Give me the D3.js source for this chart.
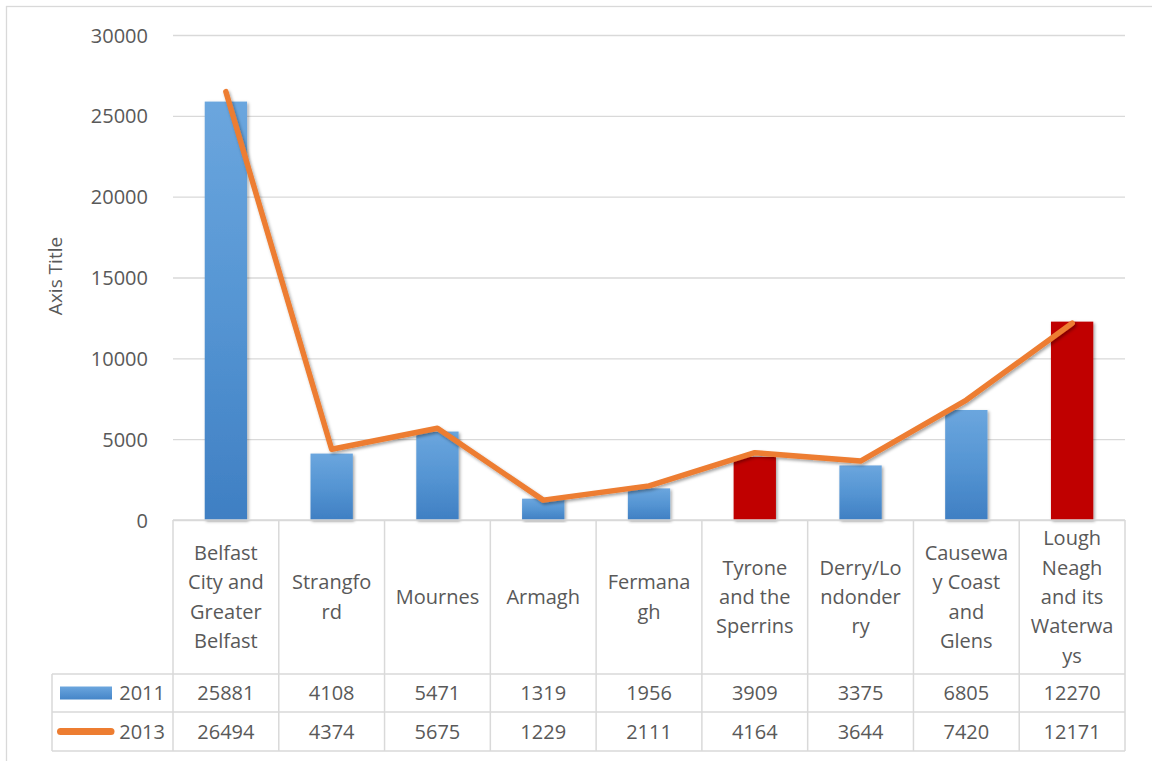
<!DOCTYPE html>
<html>
<head>
<meta charset="utf-8">
<script src="https://cdn.jsdelivr.net/npm/d3@7"></script>
<style>
  html, body { margin: 0; padding: 0; background: #fff; }
  svg { display: block; font-family: "Open Sans", "Liberation Sans", sans-serif; }
</style>
</head>
<body>
<svg id="chart" width="1152" height="761"></svg>
<script>
// Visitor figures by Northern Ireland tourism region
const categories = [
  "Belfast City and Greater Belfast", "Strangford", "Mournes", "Armagh", "Fermanagh",
  "Tyrone and the Sperrins", "Derry/Londonderry", "Causeway Coast and Glens",
  "Lough Neagh and its Waterways"
];
// Header cell text, wrapped as it appears in the data table
const categoryLines = [
  ["Belfast", "City and", "Greater", "Belfast"],
  ["Strangfo", "rd"],
  ["Mournes"],
  ["Armagh"],
  ["Fermana", "gh"],
  ["Tyrone", "and the", "Sperrins"],
  ["Derry/Lo", "ndonder", "ry"],
  ["Causewa", "y Coast", "and", "Glens"],
  ["Lough", "Neagh", "and its", "Waterwa", "ys"]
];
const values2011 = [25881, 4108, 5471, 1319, 1956, 3909, 3375, 6805, 12270];
const values2013 = [26494, 4374, 5675, 1229, 2111, 4164, 3644, 7420, 12171];
const seriesNames = ["2011", "2013"];
const highlighted = ["Tyrone and the Sperrins", "Lough Neagh and its Waterways"];
const yTicks = [0, 5000, 10000, 15000, 20000, 25000, 30000];
const yTitle = "Axis Title";

const svg = d3.select("#chart");
const textColor = "#595959";
const gridColor = "#d9d9d9";
const fontSize = 20;

const plot = { left: 173, right: 1125, top: 35, bottom: 520 };
const table = { headerBottom: 674, row1Bottom: 712, row2Bottom: 751, legendLeft: 52 };

const defs = svg.append("defs");
const blueGrad = defs.append("linearGradient").attr("id", "blueGrad")
  .attr("x1", 0).attr("y1", 0).attr("x2", 0).attr("y2", 1);
blueGrad.append("stop").attr("offset", "0%").attr("stop-color", "#6ba6de");
blueGrad.append("stop").attr("offset", "50%").attr("stop-color", "#5595d3");
blueGrad.append("stop").attr("offset", "100%").attr("stop-color", "#3f7fc3");

const keyGrad = defs.append("linearGradient").attr("id", "keyGrad")
  .attr("x1", 0).attr("y1", 0).attr("x2", 0).attr("y2", 1);
keyGrad.append("stop").attr("offset", "0%").attr("stop-color", "#6ba6de");
keyGrad.append("stop").attr("offset", "100%").attr("stop-color", "#4585c8");

const shadow = defs.append("filter").attr("id", "shadow")
  .attr("x", "-20%").attr("y", "-5%").attr("width", "140%").attr("height", "115%");
shadow.append("feDropShadow").attr("dx", 1.5).attr("dy", 1.5)
  .attr("stdDeviation", 1.5).attr("flood-color", "#000").attr("flood-opacity", 0.35);

const lineShadow = defs.append("filter").attr("id", "lineShadow")
  .attr("x", "-10%").attr("y", "-10%").attr("width", "120%").attr("height", "120%");
lineShadow.append("feDropShadow").attr("dx", 1.5).attr("dy", 2)
  .attr("stdDeviation", 1.5).attr("flood-color", "#000").attr("flood-opacity", 0.35);

// Chart frame
svg.append("rect")
  .attr("x", 6.5).attr("y", 6.5).attr("width", 1160).attr("height", 770)
  .attr("fill", "#fff").attr("stroke", gridColor).attr("stroke-width", 1.3);

const x = d3.scaleBand().domain(categories).range([plot.left, plot.right]).padding(0);
const y = d3.scaleLinear().domain([0, 30000]).range([plot.bottom, plot.top]);

// Gridlines and value axis labels
const yAxis = d3.axisLeft(y).tickValues(yTicks).tickFormat(d3.format("d"))
  .tickSize(-(plot.right - plot.left)).tickPadding(25);
const yg = svg.append("g").attr("transform", `translate(${plot.left},0)`).call(yAxis);
yg.select(".domain").remove();
yg.selectAll(".tick line").attr("stroke", gridColor).attr("stroke-width", 1.3);
yg.selectAll(".tick text")
  .attr("fill", textColor).attr("font-size", fontSize)
  .attr("font-family", "'Open Sans', sans-serif").attr("dy", "0.35em");

// Axis title
svg.append("text")
  .attr("transform", `translate(62,276) rotate(-90)`)
  .attr("text-anchor", "middle")
  .attr("fill", textColor).attr("font-size", 19)
  .text(yTitle);

// Bars (2011)
const barFrac = 0.4;
svg.append("g").selectAll("rect")
  .data(categories.map((c, i) => ({ c, v: values2011[i] })))
  .join("rect")
  .attr("x", d => x(d.c) + x.bandwidth() * (1 - barFrac) / 2)
  .attr("width", x.bandwidth() * barFrac)
  .attr("y", d => y(d.v))
  .attr("height", d => y(0) - y(d.v))
  .attr("fill", d => highlighted.includes(d.c) ? "#c00000" : "url(#blueGrad)")
  .attr("filter", "url(#shadow)");

// Data table grid
const tg = svg.append("g").attr("stroke", gridColor).attr("stroke-width", 1.5).attr("fill", "none");
tg.append("line").attr("x1", plot.left).attr("x2", plot.right).attr("y1", plot.bottom).attr("y2", plot.bottom);
[table.headerBottom, table.row1Bottom, table.row2Bottom].forEach(yy => {
  tg.append("line").attr("x1", table.legendLeft).attr("x2", plot.right).attr("y1", yy).attr("y2", yy);
});
const edges = categories.map(c => x(c)).concat([plot.right]);
edges.forEach(xx => {
  tg.append("line").attr("x1", xx).attr("x2", xx).attr("y1", plot.bottom).attr("y2", table.row2Bottom);
});
tg.append("line").attr("x1", table.legendLeft).attr("x2", table.legendLeft)
  .attr("y1", table.headerBottom).attr("y2", table.row2Bottom);

// Line (2013)
const line = d3.line()
  .x((d, i) => x(categories[i]) + x.bandwidth() / 2)
  .y(d => y(d));
svg.append("path")
  .datum(values2013)
  .attr("d", line)
  .attr("fill", "none")
  .attr("stroke", "#ed7d31")
  .attr("stroke-width", 5.5)
  .attr("stroke-linejoin", "round")
  .attr("stroke-linecap", "round")
  .attr("filter", "url(#lineShadow)");

// Header cells
const headerMid = (plot.bottom + table.headerBottom) / 2;
const lineStep = 29.4;
const hg = svg.append("g").attr("fill", textColor).attr("font-size", fontSize).attr("text-anchor", "middle");
categories.forEach((c, i) => {
  const lines = categoryLines[i];
  const cx = x(c) + x.bandwidth() / 2;
  lines.forEach((t, k) => {
    hg.append("text")
      .attr("x", cx)
      .attr("y", headerMid + (k - (lines.length - 1) / 2) * lineStep)
      .attr("dy", "0.35em")
      .text(t);
  });
});

// Value rows
const rows = [values2011, values2013];
const rowMids = [(table.headerBottom + table.row1Bottom) / 2, (table.row1Bottom + table.row2Bottom) / 2];
rows.forEach((vals, r) => {
  svg.append("g").attr("fill", textColor).attr("font-size", fontSize).attr("text-anchor", "middle")
    .selectAll("text").data(vals).join("text")
    .attr("x", (d, i) => x(categories[i]) + x.bandwidth() / 2)
    .attr("y", rowMids[r])
    .attr("dy", "0.35em")
    .text(d => d);
});

// Legend keys inside the table
svg.append("rect")
  .attr("x", 60).attr("y", rowMids[0] - 6.5).attr("width", 52).attr("height", 13)
  .attr("fill", "url(#keyGrad)");
svg.append("line")
  .attr("x1", 60.5).attr("x2", 111).attr("y1", rowMids[1]).attr("y2", rowMids[1])
  .attr("stroke", "#ed7d31").attr("stroke-width", 7).attr("stroke-linecap", "round");
seriesNames.forEach((s, r) => {
  svg.append("text")
    .attr("x", 165).attr("y", rowMids[r]).attr("dy", "0.35em")
    .attr("text-anchor", "end").attr("fill", textColor).attr("font-size", fontSize)
    .text(s);
});
</script>
</body>
</html>
